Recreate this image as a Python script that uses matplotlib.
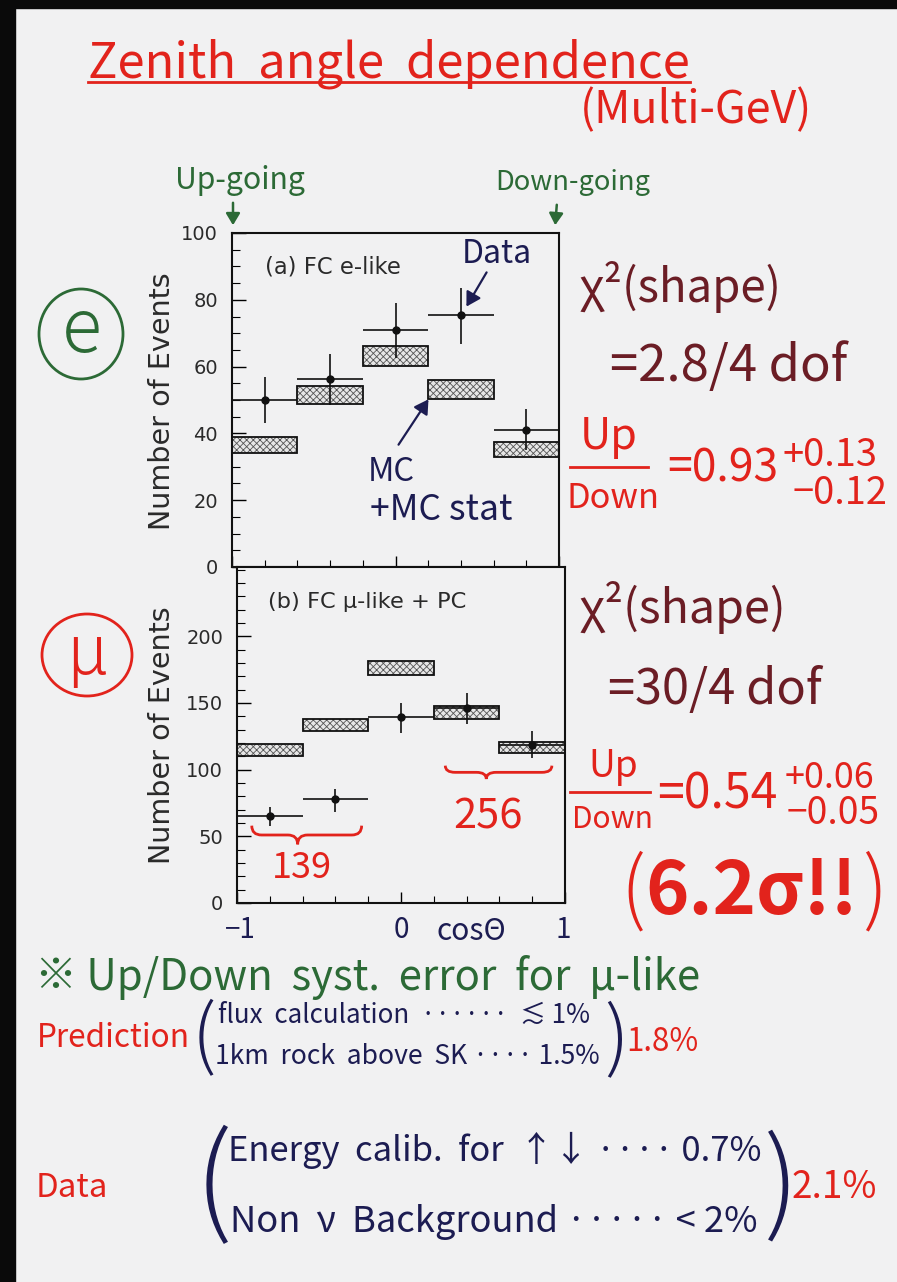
import matplotlib
matplotlib.use("Agg")
import matplotlib.pyplot as plt
from matplotlib import font_manager
from matplotlib.transforms import Affine2D
from matplotlib.patches import Ellipse, PathPatch, FancyArrowPatch, Rectangle
from matplotlib.path import Path
from matplotlib.lines import Line2D
from matplotlib.ticker import MultipleLocator, FixedLocator, NullFormatter

# ---------------- data ----------------
bin_edges = [-1.0, -0.6, -0.2, 0.2, 0.6, 1.0]

e_data = [50.0, 56.3, 70.9, 75.3, 41.1]
e_err_up = [6.9, 7.5, 8.1, 8.2, 6.2]
e_err_dn = [6.9, 7.8, 8.2, 8.6, 6.2]
e_mc_lo = [34.2, 48.7, 60.2, 50.4, 32.8]
e_mc_hi = [38.9, 54.2, 66.2, 55.9, 37.5]

mu_data = [65.3, 77.8, 139.7, 145.9, 118.5]
mu_err_up = [7.0, 7.5, 10.4, 11.7, 10.7]
mu_err_dn = [7.9, 9.2, 12.0, 11.7, 10.0]
mu_mc_lo = [110.2, 128.7, 170.8, 138.2, 112.7]
mu_mc_hi = [119.2, 137.7, 181.5, 147.9, 121.0]

e_yticks = [0, 20, 40, 60, 80, 100]
mu_yticks = [0, 50, 100, 150, 200]
x_ticklabels = ["\u22121", "0", "1"]
x_tickvals = [-1, 0, 1]

# ---------------- style ----------------
W, H = 897, 1282
BG = "#f1f1f2"
RED = "#e2231c"
MAROON = "#6b1d25"
GREEN = "#2c6a36"
NAVY = "#1c1c52"
PRINT = "#2a2a2a"

names = {f.name for f in font_manager.fontManager.ttflist}
hand = None
for cand in ["Noto Sans CJK JP", "Roboto", "Open Sans"]:
    if cand in names:
        hand = cand
        break
HFAM = [f for f in [hand, "DejaVu Sans"] if f]
PFAM = ["DejaVu Sans"]

plt.rcParams["hatch.linewidth"] = 0.6

fig = plt.figure(figsize=(W / 100, H / 100), dpi=100, facecolor=BG)
T = Affine2D().scale(1, -1).translate(0, H)  # pixel (x, y-from-top) -> display
renderer = fig.canvas.get_renderer()

# black scan borders
fig.add_artist(Rectangle((0, 0), 15, H, transform=T, color="#0a0a0a", zorder=0))
fig.add_artist(Rectangle((0, 0), W, 8, transform=T, color="#0a0a0a", zorder=0))


def fit_text(s, x0, x1, yc, color, fam=None, dim="w", target=None, rot=0,
             weight="normal", ha="left", fs0=20):
    fam = fam or HFAM
    t = fig.text(x0, yc, s, transform=T, color=color, fontsize=fs0, ha=ha,
                 va="center", family=fam, rotation=rot, fontweight=weight)
    bb = t.get_window_extent(renderer)
    if dim == "w":
        fs = fs0 * (x1 - x0) / bb.width
    else:
        fs = fs0 * target / bb.height
    t.set_fontsize(fs)
    return t


def px_axes(x0, x1, y0, y1):
    return fig.add_axes([x0 / W, 1 - y1 / H, (x1 - x0) / W, (y1 - y0) / H])


centers = [(bin_edges[i] + bin_edges[i + 1]) / 2 for i in range(len(bin_edges) - 1)]
widths = [bin_edges[i + 1] - bin_edges[i] for i in range(len(bin_edges) - 1)]
half = [w / 2 for w in widths]


def draw_panel(ax, data, eup, edn, lo, hi, yticks, ymax, minor):
    ax.set_facecolor(BG)
    hts = [h - l for h, l in zip(hi, lo)]
    ax.bar(centers, hts, bottom=lo, width=widths, facecolor="#e6e6e6",
           edgecolor="#555555", linewidth=0, hatch="xxxxx", zorder=2)
    ax.bar(centers, hts, bottom=lo, width=widths, fill=False,
           edgecolor="#111111", linewidth=1.3, zorder=3)
    ax.errorbar(centers, data, xerr=half, yerr=[edn, eup], fmt="o", ms=5,
                color="#111111", elinewidth=1.2, capsize=0, zorder=4)
    ax.set_xlim(-1, 1)
    ax.set_ylim(0, ymax)
    ax.set_yticks(yticks)
    ax.yaxis.set_minor_locator(MultipleLocator(minor))
    ax.xaxis.set_major_locator(FixedLocator(x_tickvals))
    ax.xaxis.set_minor_locator(MultipleLocator(0.2))
    ax.xaxis.set_major_formatter(NullFormatter())
    ax.tick_params(axis="y", which="major", direction="in", length=10, width=1,
                   labelsize=14, labelcolor=PRINT, pad=10)
    ax.tick_params(axis="y", which="minor", direction="in", length=6, width=0.8)
    ax.tick_params(axis="x", which="major", direction="in", length=8, width=1)
    ax.tick_params(axis="x", which="minor", direction="in", length=5, width=0.8)
    for lab in ax.get_yticklabels():
        lab.set_family(PFAM)
    for sp in ax.spines.values():
        sp.set_linewidth(1.5)
        sp.set_color("#111111")


ax1 = px_axes(232, 559, 233, 567)
draw_panel(ax1, e_data, e_err_up, e_err_dn, e_mc_lo, e_mc_hi, e_yticks, 100, 5)
ax2 = px_axes(237, 565, 567, 903)
draw_panel(ax2, mu_data, mu_err_up, mu_err_dn, mu_mc_lo, mu_mc_hi, mu_yticks, 252, 10)

# printed panel labels
fit_text("(a) FC e-like", 265, 400, 267, PRINT, fam=PFAM)
fit_text("(b) FC \u03bc-like + PC", 268, 466, 602, PRINT, fam=PFAM)
fit_text("Number of Events", 162, 162, 401, PRINT, fam=PFAM, dim="h",
         target=258, rot=90, ha="center")
fit_text("Number of Events", 162, 162, 735, PRINT, fam=PFAM, dim="h",
         target=258, rot=90, ha="center")

# title
fit_text("Zenith  angle  dependence", 88, 690, 64, RED)
fig.add_artist(Line2D([88, 690], [82, 82], transform=T, color=RED, lw=2))
fit_text("(Multi-GeV)", 580, 812, 110, RED)

# up/down-going
fit_text("Up-going", 175, 305, 180, GREEN)
fit_text("Down-going", 495, 650, 182, GREEN)
arrow_kw = dict(arrowstyle="-|>,head_length=0.5,head_width=0.3", color=GREEN,
                lw=1.8, mutation_scale=14)
fig.add_artist(FancyArrowPatch((233, 200), (233, 228), transform=T, **arrow_kw))
fig.add_artist(FancyArrowPatch((557, 202), (555, 228), transform=T, **arrow_kw))

# circled particle labels
fig.add_artist(Ellipse((81, 334), 84, 90, transform=T, fill=False, ec=GREEN, lw=2))
fit_text("e", 62, 102, 331, GREEN, weight="light")
fig.add_artist(Ellipse((87, 655), 90, 82, transform=T, fill=False, ec=RED, lw=2))
fit_text("\u03bc", 66, 108, 655, RED, weight="light")

# annotations in the top panel
fit_text("Data", 462, 532, 254, NAVY)
nav_arrow = dict(arrowstyle="-|>,head_length=0.6,head_width=0.35", color=NAVY,
                 lw=1.6, mutation_scale=14)
fig.add_artist(FancyArrowPatch((488, 270), (465, 309), transform=T, **nav_arrow))
fit_text("MC", 368, 415, 472, NAVY)
fit_text("+MC stat", 370, 512, 510, NAVY)
fig.add_artist(FancyArrowPatch((397, 447), (430, 397), transform=T, **nav_arrow))


# braces in bottom panel
def brace(ax, x0, x1, xt, y, h, color):
    a = 0.06
    verts = [(x0, y + h), (x0, y), (x0 + a, y), (xt - a, y), (xt, y), (xt, y - h),
             (xt, y), (xt + a, y), (x1 - a, y), (x1, y), (x1, y + h)]
    codes = [Path.MOVETO, Path.CURVE3, Path.CURVE3, Path.LINETO, Path.CURVE3, Path.CURVE3,
             Path.CURVE3, Path.CURVE3, Path.LINETO, Path.CURVE3, Path.CURVE3]
    ax.add_patch(PathPatch(Path(verts, codes), fill=False, ec=color, lw=2,
                           clip_on=False, zorder=5))


brace(ax2, -0.91, -0.24, -0.63, 51, 7, RED)
brace(ax2, 0.27, 0.92, 0.52, 98, 5, RED)
fit_text("139", 272, 332, 868, RED)
fit_text("256", 453, 522, 817, RED)

# handwritten x axis labels
for lab, xv in zip(x_ticklabels, x_tickvals):
    xp = 240 + (xv + 1) / 2 * (563 - 240)
    fit_text(lab, xp, xp, 930, NAVY, dim="h", target=30, ha="center")
fit_text("cos\u0398", 436, 506, 932, NAVY)

# right-hand results (e)
fit_text("\u03c7\u00b2(shape)", 580, 782, 287, MAROON)
fit_text("=2.8/4 dof", 610, 847, 367, MAROON)
fit_text("Up", 580, 638, 437, RED)
fig.add_artist(Line2D([570, 648], [467, 467], transform=T, color=RED, lw=2))
fit_text("Down", 567, 660, 498, RED)
fit_text("=0.93", 667, 778, 468, RED)
fit_text("+0.13", 782, 877, 456, RED)
fit_text("\u22120.12", 793, 888, 494, RED)

# right-hand results (mu)
fit_text("\u03c7\u00b2(shape)", 580, 787, 607, MAROON)
fit_text("=30/4 dof", 608, 822, 690, MAROON)
fit_text("Up", 588, 638, 767, RED)
fig.add_artist(Line2D([570, 650], [792, 792], transform=T, color=RED, lw=2))
fit_text("Down", 572, 653, 820, RED)
fit_text("=0.54", 657, 777, 795, RED)
fit_text("+0.06", 785, 875, 778, RED)
fit_text("\u22120.05", 787, 880, 813, RED)
fit_text("(", 620, 620, 893, RED, dim="h", target=80, weight="light")
fit_text("6.2\u03c3!!", 645, 858, 893, RED, weight="bold")
fit_text(")", 862, 862, 893, RED, dim="h", target=80, weight="light")

# systematic error notes
fit_text("\u203b Up/Down  syst.  error  for  \u03bc-like", 35, 700, 977, GREEN)
fit_text("Prediction", 37, 190, 1038, RED)
fit_text("(", 192, 192, 1040, NAVY, dim="h", target=78, weight="light")
fit_text("flux  calculation  \u00b7\u00b7\u00b7\u00b7\u00b7\u00b7  \u2272 1%", 218, 590, 1015, NAVY)
fit_text("1km  rock  above  SK \u00b7\u00b7\u00b7\u00b7 1.5%", 215, 600, 1057, NAVY)
fit_text(")", 604, 604, 1042, NAVY, dim="h", target=78, weight="light")
fit_text("1.8%", 626, 698, 1042, RED)
fit_text("Data", 36, 108, 1188, RED)
fit_text("(", 195, 195, 1188, NAVY, dim="h", target=120, weight="light")
fit_text("Energy  calib.  for  \u2191\u2193 \u00b7\u00b7\u00b7\u00b7 0.7%", 228, 762, 1150, NAVY)
fit_text("Non  \u03bd  Background \u00b7\u00b7\u00b7\u00b7\u00b7 < 2%", 230, 758, 1222, NAVY)
fit_text(")", 764, 764, 1188, NAVY, dim="h", target=112, weight="light")
fit_text("2.1%", 792, 877, 1188, RED)

fig.savefig("out.png", dpi=100, facecolor=BG)
